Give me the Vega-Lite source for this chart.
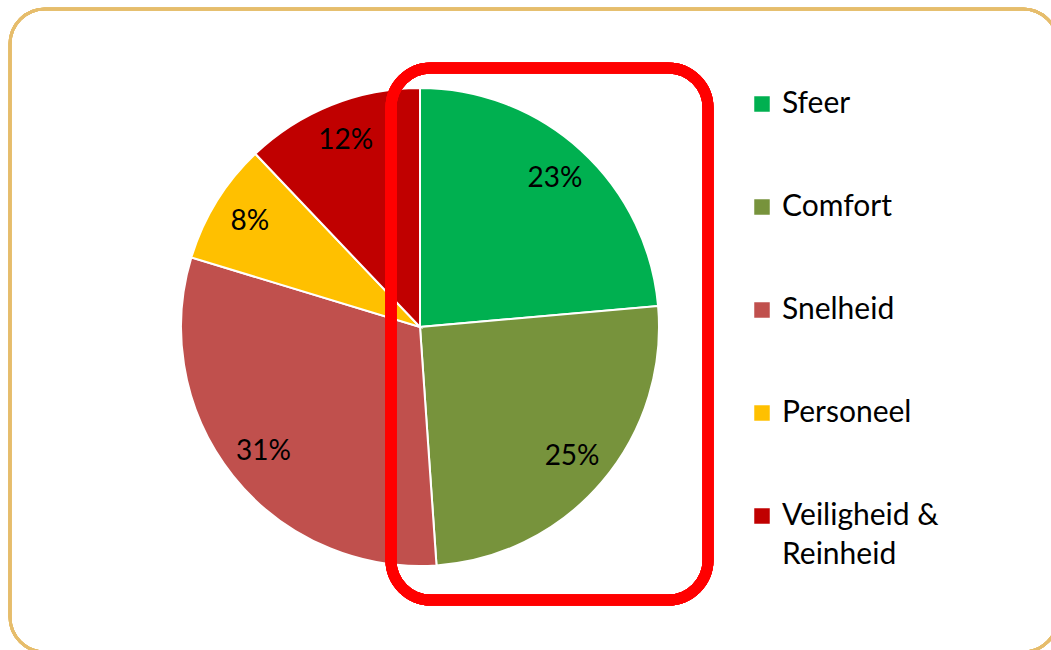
{
  "$schema": "https://vega.github.io/schema/vega-lite/v6.json",
  "width": 820,
  "height": 636,
  "autosize": {"type": "none"},
  "padding": {"left": 10, "top": 9, "right": 221, "bottom": 5},
  "background": "white",
  "config": {
    "view": {"stroke": null},
    "font": "Lato",
    "style": {"guide-label": {"lineHeight": 39}}
  },
  "data": {
    "values": [
      {"categorie": "Sfeer", "aandeel": 23.6, "volgorde": 1, "label": "23%"},
      {"categorie": "Comfort", "aandeel": 25.3, "volgorde": 2, "label": "25%"},
      {"categorie": "Snelheid", "aandeel": 30.8, "volgorde": 3, "label": "31%"},
      {"categorie": "Personeel", "aandeel": 8.2, "volgorde": 4, "label": "8%"},
      {"categorie": "Veiligheid & Reinheid", "aandeel": 12.1, "volgorde": 5, "label": "12%"}
    ]
  },
  "encoding": {
    "theta": {"field": "aandeel", "type": "quantitative", "stack": true},
    "order": {"field": "volgorde", "type": "quantitative"}
  },
  "layer": [
    {
      "mark": {"type": "rect", "x": 0, "y": 0, "x2": 1048, "y2": 643, "fill": null, "stroke": "#E6BD6C", "strokeWidth": 3, "cornerRadius": 35},
      "encoding": {"theta": null, "order": null}
    },
    {
      "mark": {"type": "arc", "outerRadius": 239, "stroke": "white", "strokeWidth": 2},
      "encoding": {
        "color": {
          "field": "categorie",
          "type": "nominal",
          "scale": {
            "domain": ["Sfeer", "Comfort", "Snelheid", "Personeel", "Veiligheid & Reinheid"],
            "range": ["#00B050", "#77933C", "#C0504D", "#FFC000", "#C00000"]
          },
          "legend": {
            "orient": "none",
            "legendX": 737,
            "legendY": 80,
            "title": null,
            "padding": 0,
            "symbolType": "square",
            "symbolSize": 240,
            "symbolStrokeWidth": 0,
            "labelFont": "Lato",
            "labelFontSize": 30,
            "labelColor": "#000000",
            "labelOffset": 5,
            "labelLimit": 400,
            "rowPadding": 73,
            "labelBaseline": "middle",
            "labelExpr": "datum.label == 'Veiligheid & Reinheid' ? ['Veiligheid &', 'Reinheid'] : datum.label",
            "encode": {"labels": {"update": {"lineHeight": {"value": 39}}}}
          }
        }
      }
    },
    {
      "mark": {"type": "text", "radius": 200, "font": "Lato", "fontSize": 28, "color": "#000000"},
      "encoding": {"text": {"field": "label", "type": "nominal"}}
    },
    {
      "mark": {"type": "rect", "x": 381, "y": 59, "x2": 698, "y2": 591, "fill": null, "stroke": "#FF0000", "strokeWidth": 11, "cornerRadius": 40},
      "encoding": {"theta": null, "order": null}
    }
  ]
}
